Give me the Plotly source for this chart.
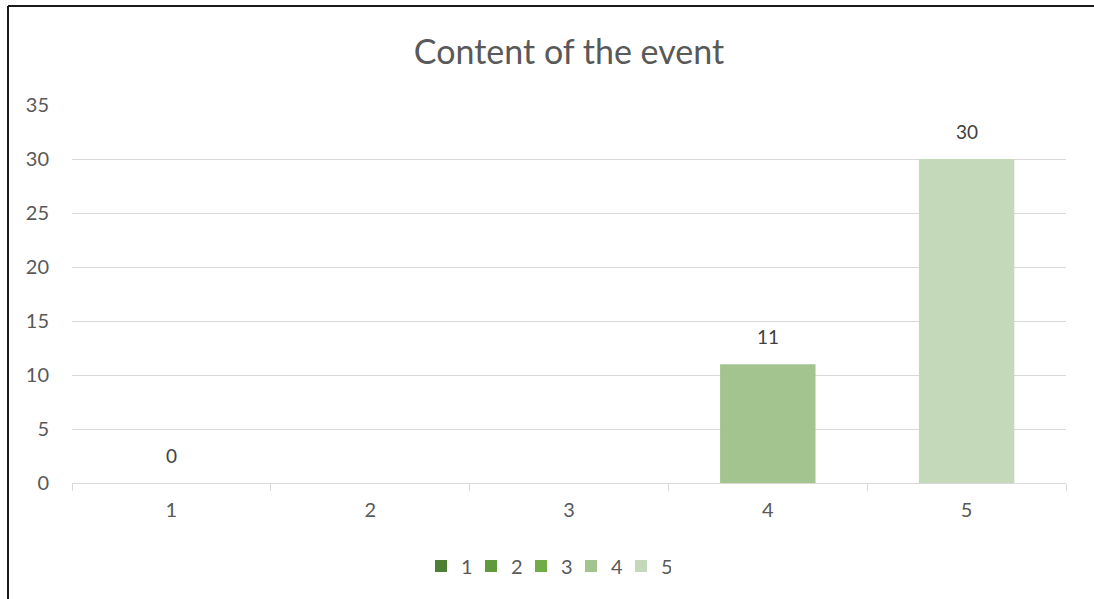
import plotly.graph_objects as go

# Ratings for "Content of the event" (blank = no responses recorded)
categories = ["1", "2", "3", "4", "5"]
counts = [0, None, None, 11, 30]
colors = ["#4f7f34", "#5f9b3d", "#70ad47", "#a3c48f", "#c4d8ba"]
y_ticks = [0, 5, 10, 15, 20, 25, 30, 35]

FONT = "Lato"
TEXT = "#595959"
GRID = "#d9d9d9"

W, H = 1094, 599
L, R, T, B = 72, 28, 105, 116
pw, ph = W - L - R, H - T - B


def px_x(x):
    return (x - L) / pw


def px_y(y):
    return (H - B - y) / ph


fig = go.Figure()
for i, (cat, val, col) in enumerate(zip(categories, counts, colors)):
    fig.add_trace(go.Bar(
        x=[cat], y=[val], name=cat,
        marker=dict(color=col, line=dict(width=0)),
        hoverinfo="x+y",
    ))
    if val is not None:
        # value label above the bar (category position given by index)
        fig.add_annotation(
            x=i, y=val, text=str(val), showarrow=False,
            yanchor="bottom", yshift=14,
            font=dict(family=FONT, size=19, color="#404040"),
        )

# frame around the chart area
fig.add_shape(type="line", xref="paper", yref="paper",
              x0=px_x(8), x1=px_x(W + 2), y0=px_y(6), y1=px_y(6),
              line=dict(color="#1a1a1a", width=2))
fig.add_shape(type="line", xref="paper", yref="paper",
              x0=px_x(8), x1=px_x(8), y0=px_y(6), y1=px_y(H + 2),
              line=dict(color="#1a1a1a", width=2))

fig.update_layout(
    width=W, height=H,
    margin=dict(l=L, r=R, t=T, b=B),
    paper_bgcolor="white", plot_bgcolor="white",
    barmode="overlay", bargap=0.52,
    font=dict(family=FONT, size=19, color=TEXT),
    title=dict(text="Content of the event", x=0.5, xref="paper",
               y=1 - 52 / H, yanchor="middle",
               font=dict(family=FONT, size=34, color=TEXT)),
    showlegend=True,
    legend=dict(orientation="h", x=px_x(421), xanchor="left",
                y=px_y(566), yanchor="middle",
                font=dict(family=FONT, size=20, color=TEXT),
                itemwidth=30, entrywidth=5, entrywidthmode="pixels",
                traceorder="normal"),
    xaxis=dict(type="category", categoryorder="array", categoryarray=categories,
               range=[-0.5, len(categories) - 0.5],
               showgrid=False, showline=True, linecolor=GRID, linewidth=1,
               ticks="outside", tickson="boundaries", ticklen=7, tickcolor=GRID,
               ticklabelstandoff=9,
               tickfont=dict(family=FONT, size=20, color=TEXT),
               fixedrange=True),
    yaxis=dict(range=[0, 35], tickvals=y_ticks, showgrid=True, gridcolor=GRID,
               gridwidth=1, zeroline=False, showline=False, ticks="",
               ticklabelstandoff=22,
               tickfont=dict(family=FONT, size=20, color=TEXT),
               fixedrange=True),
)

fig.write_html("out.html")
